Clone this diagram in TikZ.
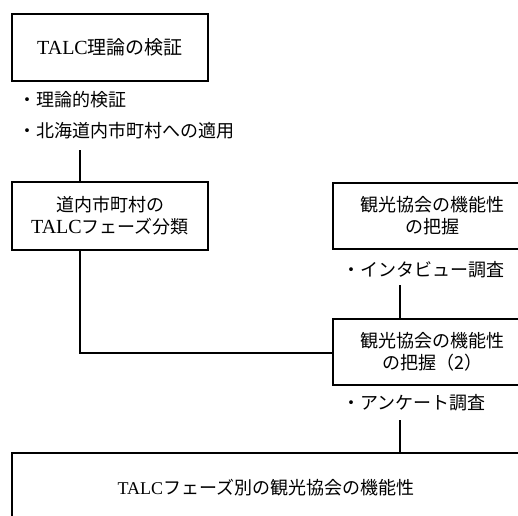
\documentclass[tikz,border=0pt]{standalone}
\usepackage{fontspec}
\setmainfont{Liberation Serif}
\newfontfamily\jp{Noto Sans CJK JP}
\newcommand{\talcbig}{{\fontsize{20}{22}\selectfont TALC}}
\begin{document}
\begin{tikzpicture}[x=1pt,y=-1pt,
  box/.style={draw=black,line width=1.6pt,align=center,inner sep=0pt,
    font=\fontsize{18}{22}\selectfont},
  bullet/.style={anchor=west,inner sep=0pt,font=\fontsize{18}{22}\selectfont\jp},
  conn/.style={draw=black,line width=1.6pt}]
\useasboundingbox (0,0) rectangle (518,515);
\clip (0,0) rectangle (518,515);
\node[box,minimum width=196pt,minimum height=67pt,font=\fontsize{19}{22}\selectfont] (A) at (110,47.5) {\talcbig{\jp 理論の検証}};
\node[bullet] (a1) at (18,100) {・理論的検証};
\node[bullet] (a2) at (18,131) {・北海道内市町村への適用};
\node[box,minimum width=196pt,minimum height=68pt] (B) at (110,216) {{\jp 道内市町村の}\\\talcbig{\jp フェーズ分類}};
\node[box,minimum width=198pt,minimum height=66pt] (C) at (432,216) {{\jp 観光協会の機能性}\\{\jp の把握}};
\node[bullet] (c1) at (342,270) {・インタビュー調査};
\node[box,minimum width=198pt,minimum height=66pt] (D) at (432,352) {{\jp 観光協会の機能性}\\{\jp の把握（2）}};
\node[bullet] (d1) at (342,403) {・アンケート調査};
\node[box,minimum width=508pt,minimum height=70pt] (E) at (266,488) {TALC{\jp フェーズ別の観光協会の機能性}};
\coordinate (p1) at (80,150);
\coordinate (p2) at (400,285);
\coordinate (p3) at (400,420);
\draw[conn] (p1) -- (p1 |- B.north);
\draw[conn] (B.south -| p1) -- (80,353) -- (80,353 -| D.west);
\draw[conn] (p2) -- (p2 |- D.north);
\draw[conn] (p3) -- (p3 |- E.north);
\end{tikzpicture}
\end{document}
